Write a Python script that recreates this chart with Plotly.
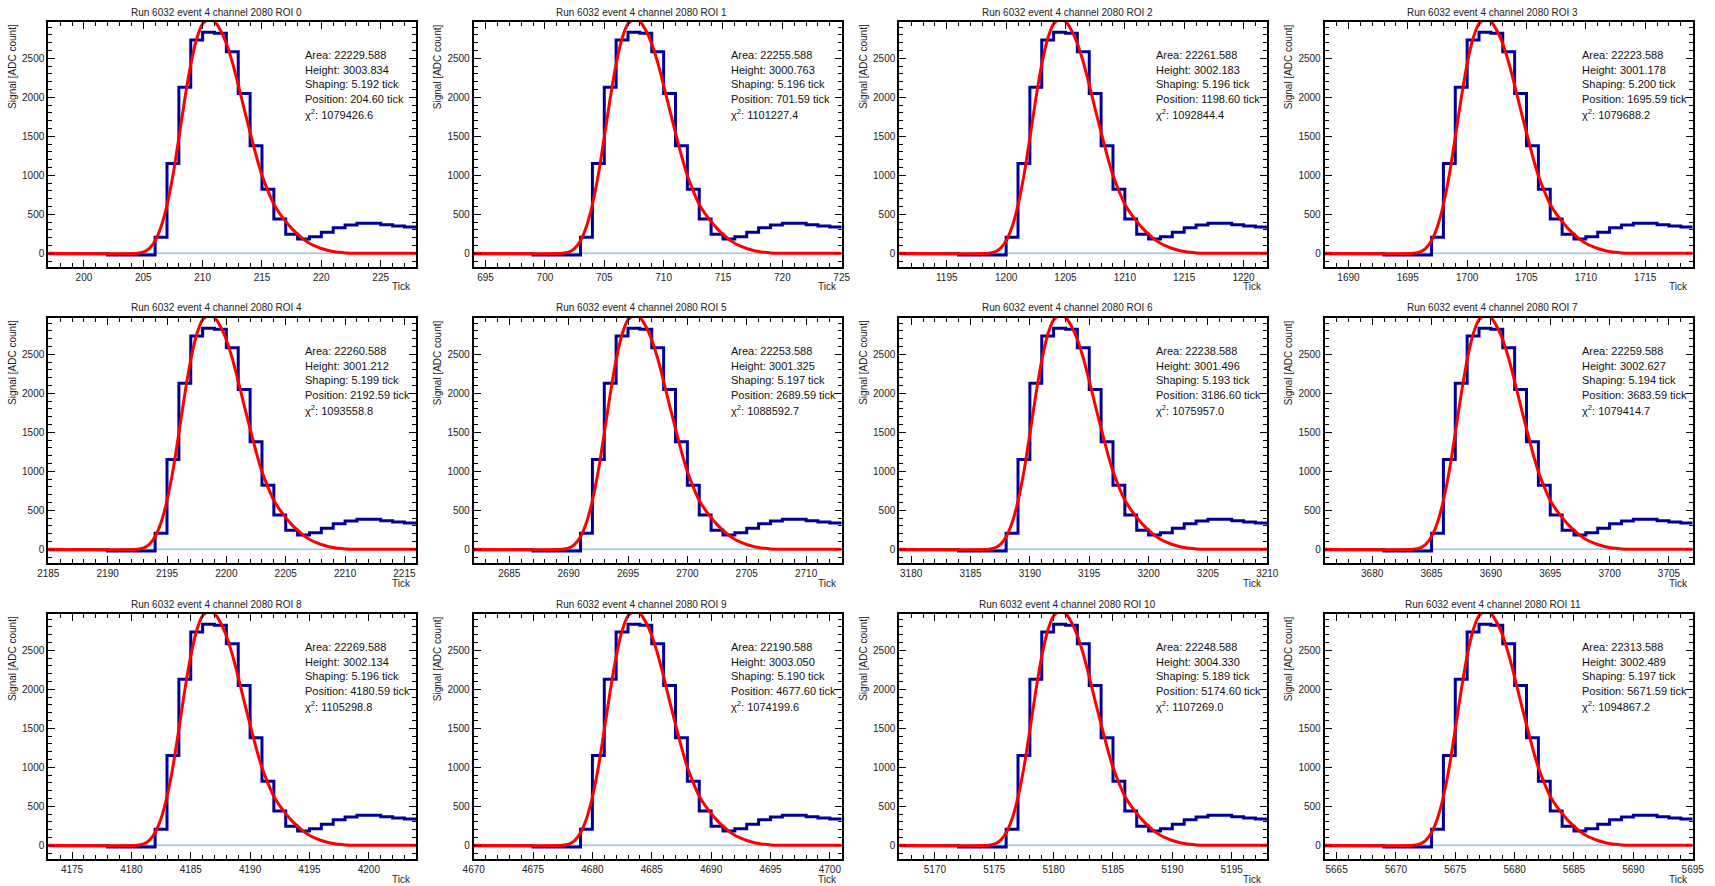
import plotly.graph_objects as go

W, H = 1715, 886

# ---------------- data ----------------
roi_index = list(range(12))
roi_position = [204.60, 701.59, 1198.60, 1695.59, 2192.59, 2689.59,
                3186.60, 3683.59, 4180.59, 4677.60, 5174.60, 5671.59]
roi_area = [22229.588, 22255.588, 22261.588, 22223.588, 22260.588, 22253.588,
            22238.588, 22259.588, 22269.588, 22190.588, 22248.588, 22313.588]
roi_height = [3003.834, 3000.763, 3002.183, 3001.178, 3001.212, 3001.325,
              3001.496, 3002.627, 3002.134, 3003.050, 3004.330, 3002.489]
roi_shaping = [5.192, 5.196, 5.196, 5.200, 5.199, 5.197,
               5.193, 5.194, 5.196, 5.190, 5.189, 5.197]
roi_chi2 = [1079426.6, 1101227.4, 1092844.4, 1079688.2, 1093558.8, 1088592.7,
            1075957.0, 1079414.7, 1105298.8, 1074199.6, 1107269.0, 1094867.2]
roi_first_tick = [197, 694, 1191, 1688, 2185, 2682, 3179, 3676, 4173, 4670, 5167, 5664]

# ADC per tick bin (31 bins per ROI)
signal_adc = [-5, -5, -5, -5, -5, -20, -20, -20, -20, 205, 1150, 2130, 2735, 2835, 2820,
              2585, 2050, 1380, 820, 440, 244, 184, 214, 270, 329, 363, 385, 385, 368, 350, 338]

# fitted curve, ticks relative to fitted Position, and ADC value
fit_dt = [-7.6, -0.1, 0.4, 0.9, 1.4, 1.9, 2.4, 2.9, 3.4, 3.9, 4.4, 4.9, 5.4, 5.9, 6.4, 6.9,
          7.4, 7.9, 8.4, 8.9, 9.4, 9.9, 10.4, 10.9, 11.4, 11.9, 12.4, 12.9, 13.4, 13.9,
          14.4, 14.9, 15.4, 15.9, 16.4, 16.9, 17.4, 18.4, 19.4, 23.4]
fit_adc = [0, 0, 15, 60, 160, 340, 620, 1000, 1480, 1980, 2420, 2750, 2940, 3003, 2975, 2860,
           2690, 2450, 2160, 1850, 1550, 1260, 1000, 800, 630, 510, 410, 320, 245, 180,
           130, 92, 62, 40, 24, 13, 6, 2, 0, 0]

n_bins = len(signal_adc)
y_range = [-175, 2965]

# ---------------- layout geometry (pixels) ----------------
frame_left = [48.3, 473.7, 899.3, 1324.7]
frame_w = 368.0
frame_top = [22.0, 318.0, 614.0]
frame_h = 245.0

def px(x):
    return x / W

def py(y):
    return 1 - y / H

fig = go.Figure()
annotations = []
layout_axes = {}

for k in roi_index:
    r, c = divmod(k, 4)
    ax = "" if k == 0 else str(k + 1)
    xref, yref = "x" + ax, "y" + ax
    x0 = roi_first_tick[k]
    x1 = x0 + n_bins

    # baseline
    fig.add_trace(go.Scatter(x=[x0, x1], y=[0, 0], mode="lines",
                             line=dict(color="#8ccaf5", width=1.5),
                             xaxis=xref, yaxis=yref, hoverinfo="skip", showlegend=False))
    # histogram
    edges = [x0 + i for i in range(n_bins + 1)]
    fig.add_trace(go.Scatter(x=edges, y=signal_adc + [signal_adc[-1]], mode="lines",
                             line=dict(color="#000099", width=3, shape="hv"),
                             xaxis=xref, yaxis=yref, showlegend=False))
    # fit
    fig.add_trace(go.Scatter(x=[roi_position[k] + d for d in fit_dt], y=fit_adc, mode="lines",
                             line=dict(color="#ff0000", width=3, shape="spline", smoothing=0.6),
                             xaxis=xref, yaxis=yref, showlegend=False))

    L = frame_left[c]
    T = frame_top[r]
    common = dict(showline=True, linewidth=2, linecolor="black", mirror="allticks",
                  ticks="inside", ticklen=7, tickwidth=1, tickcolor="black",
                  showgrid=False, zeroline=False, automargin=False,
                  tickfont=dict(family="Liberation Sans, Arial", size=10, color="#222"))
    layout_axes["xaxis" + ax] = dict(
        domain=[px(L), px(L + frame_w)], range=[x0, x1], anchor=yref,
        tick0=0, dtick=5, minor=dict(dtick=1, ticks="inside", ticklen=4, tickcolor="black"),
        **common)
    layout_axes["yaxis" + ax] = dict(
        domain=[py(T + frame_h), py(T)], range=y_range, anchor=xref,
        tick0=0, dtick=500, minor=dict(dtick=100, ticks="inside", ticklen=4, tickcolor="black"),
        **common)

    font = dict(family="Liberation Sans, Arial", size=10, color="#222")
    # title
    annotations.append(dict(text=f"Run 6032 event 4 channel 2080 ROI {k}",
                            x=px(L + frame_w / 2 - 16), y=py(T - 10), xref="paper", yref="paper",
                            xanchor="center", yanchor="middle", showarrow=False, font=font))
    # y title
    annotations.append(dict(text="Signal [ADC count]", textangle=-90,
                            x=px(L - 36), y=py(T), xref="paper", yref="paper",
                            xanchor="center", yanchor="top", showarrow=False, font=font))
    # x title
    annotations.append(dict(text="Tick", x=px(L + frame_w - 3), y=py(T + frame_h + 20),
                            xref="paper", yref="paper", xanchor="right", yanchor="middle",
                            showarrow=False, font=font))
    # stats text
    lines = [f"Area: {roi_area[k]:.3f}",
             f"Height: {roi_height[k]:.3f}",
             f"Shaping: {roi_shaping[k]:.3f} tick",
             f"Position: {roi_position[k]:.2f} tick",
             f"χ<sup>2</sup>: {roi_chi2[k]:.1f}"]
    for i, t in enumerate(lines):
        annotations.append(dict(text=t, x=px(L + 255), y=py(T + 33 + 14.7 * i),
                                xref="paper", yref="paper", xanchor="left", yanchor="middle",
                                showarrow=False,
                                font=dict(family="Liberation Sans, Arial", size=11, color="#111")))

fig.update_layout(template="none", width=W, height=H, margin=dict(l=0, r=0, t=0, b=0, pad=0),
                  paper_bgcolor="white", plot_bgcolor="white",
                  annotations=annotations, **layout_axes)

fig.write_html("out.html")
